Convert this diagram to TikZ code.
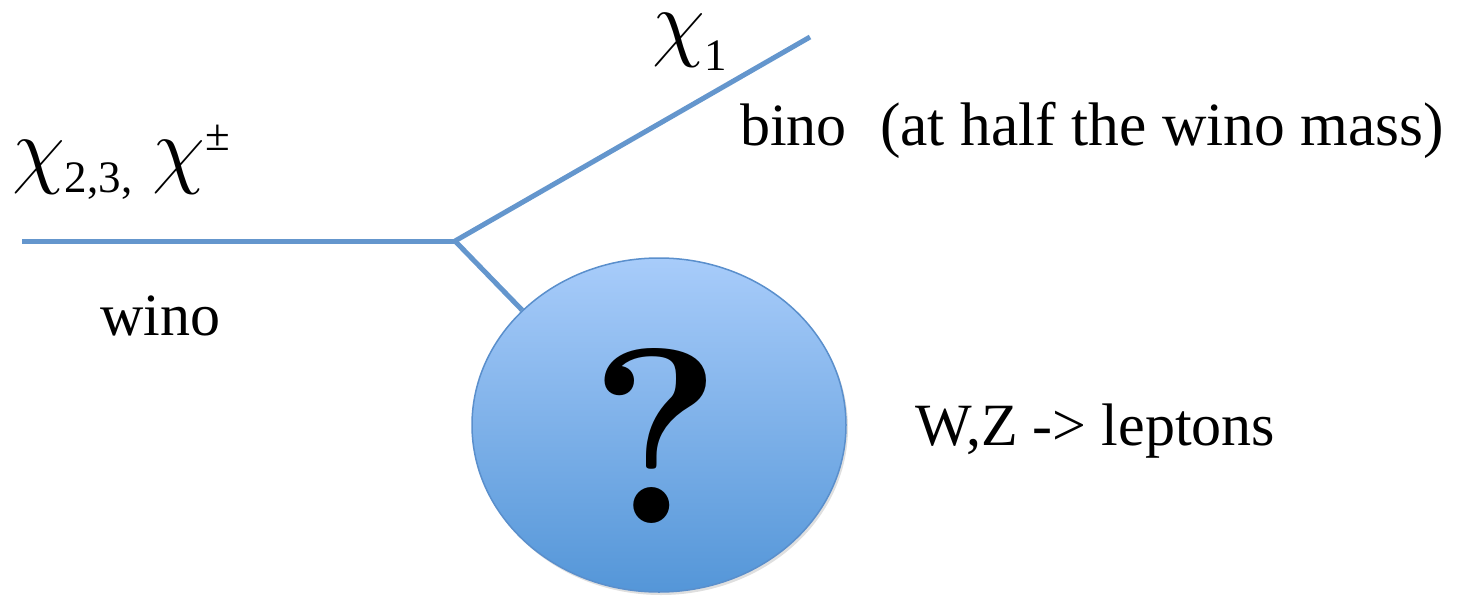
\RequirePackage{fix-cm}
\documentclass[tikz,border=0pt]{standalone}
\usepackage{fontspec}
\setmainfont{Liberation Serif}
\newfontfamily\lmfont{Latin Modern Roman}
\usetikzlibrary{shapes.geometric,shadows}
\definecolor{linec}{RGB}{100,150,205}
\definecolor{circtop}{RGB}{168,204,250}
\definecolor{circbot}{RGB}{84,150,216}
\definecolor{circedge}{RGB}{90,143,204}
\newcommand{\chif}{\fontsize{86}{86}\selectfont}
\newcommand{\subf}{\fontsize{45}{45}\selectfont}
\newcommand{\labf}{\fontsize{60}{60}\selectfont}
\newcommand{\chisym}{{\chif$\chi$}}
\begin{document}
\begin{tikzpicture}[x=1pt,y=-1pt,
  prop/.style={draw=linec,line width=5pt},
  lab/.style={anchor=base west,inner sep=0pt,font=\labf},
  blob/.style={ellipse,draw=circedge,line width=1.5pt,minimum width=374pt,minimum height=334pt,inner sep=0pt,top color=circtop,bottom color=circbot,drop shadow={opacity=0.25,shadow xshift=2pt,shadow yshift=-3pt}}]
\useasboundingbox (0,0) rectangle (1462,600);
\begin{scope}
\clip (0,0) rectangle (1462,600);
\coordinate (l) at (22,241);
\coordinate (v) at (455,241);
\coordinate (t) at (810,37);
\node[blob] (c) at (659,425) {};
\draw[prop] (l) -- (v);
\draw[prop] (v) -- (t);
\draw[prop] (v) -- (c.140);
\node[inner sep=0pt] (q) at (656,436) {\fontsize{250}{250}\lmfont\bfseries ?};
\node[lab] (wl) at (12,177) {\chisym\raisebox{-15pt}{\subf 2,3,}\hspace{20pt}\chisym\raisebox{27pt}{\subf ±}};
\node[lab] (bl) at (652,50) {\chisym\raisebox{-20pt}{\subf 1}};
\node[lab] (bino) at (740,145) {bino};
\node[lab,font=\fontsize{61.5}{61.5}\selectfont] (mass) at (880,145) {(at half the wino mass)};
\node[lab] (wino) at (100,335) {wino};
\node[lab] (wz) at (915,445) {W,Z -> leptons};
\end{scope}
\end{tikzpicture}
\end{document}
